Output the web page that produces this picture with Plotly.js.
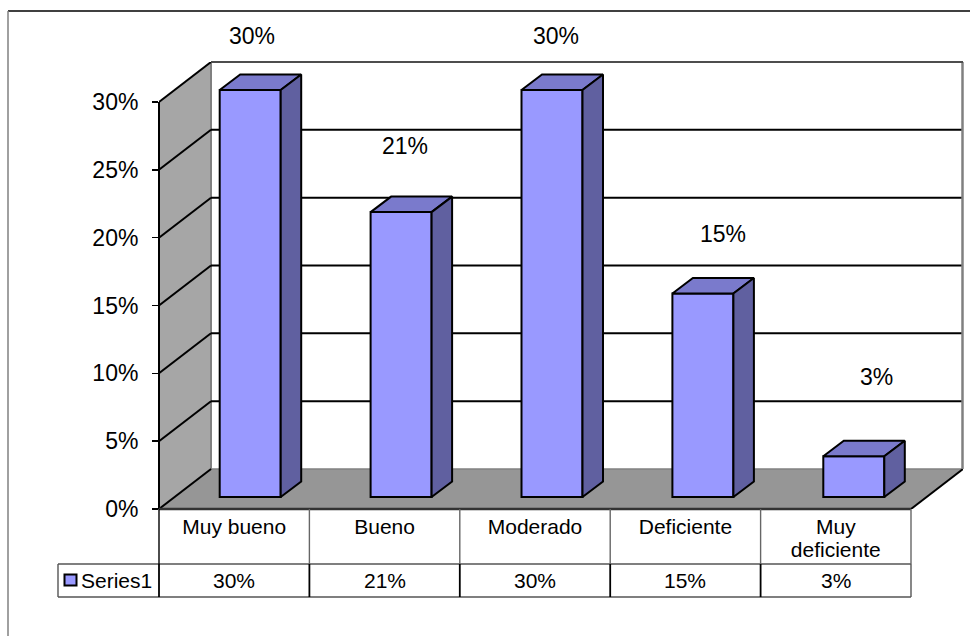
<!DOCTYPE html>
<html>
<head>
<meta charset="utf-8">
<script src="https://cdn.plot.ly/plotly-3.0.1.min.js"></script>
<style>html,body{margin:0;padding:0;background:#fff}</style>
</head>
<body>
<div id="chart" style="width:970px;height:636px"></div>
<script>
// Data
const categories = ["Muy bueno", "Bueno", "Moderado", "Deficiente", "Muy<br>deficiente"];
const seriesName = "Series1";
const values = [30, 21, 30, 15, 3];
const yTicks = [0, 5, 10, 15, 20, 25, 30];
const gridTicks = [5, 10, 15, 20, 25, 30];
const labelX = [0.118, 1.136, 2.14, 3.25, 4.27];
const labelY = [34.86, 26.76, 34.86, 20.27, 9.73];

// Scale of the 3-D box, in pixels of the frame
const W = 970, H = 636, L = 159, R = 963, T = 62, B = 509;
const catPx = 150.4, unitPx = 407 / 30;
const wallDx = 52 / catPx, wallDy = 40 / unitPx;
const barDx = 16 / catPx, barStep = 150.9 / catPx, barBase = 12 / unitPx, barW = 61 / catPx;
const faceDx = 20.5 / catPx, faceDy = 15.5 / unitPx;
const xMin = -0.5, xMax = xMin + (R - L) / catPx, yMax = (B - T) / unitPx;
const px = x => (x - L) / (R - L);
const py = y => (B - y) / (B - T);

const path = pts => pts.map((p, i) => (i ? "L" : "M") + p[0] + "," + p[1]).join(" ") + " Z";
const xRight = xMin + 5;
const shapes = [];
const dataLine = (x0, y0, x1, y1, color, width) => shapes.push({type:"line", xref:"x", yref:"y", layer:"below",
  x0:x0, x1:x1, y0:y0, y1:y1, line:{color:color, width:width}});
// walls and floor
shapes.push({type:"path", xref:"x", yref:"y", layer:"below", fillcolor:"#a6a6a6", line:{width:0},
  path:path([[xMin,0],[xMin+wallDx,wallDy],[xMin+wallDx,30+wallDy],[xMin,30]])});
shapes.push({type:"path", xref:"x", yref:"y", layer:"below", fillcolor:"#969696", line:{width:0},
  path:path([[xMin,0],[xMin+wallDx,wallDy],[xRight+wallDx,wallDy],[xRight,0]])});
// wall edges inside the plot
dataLine(xMin+wallDx, wallDy, xMin+wallDx, 30+wallDy, "#808080", 2);
dataLine(xMin+wallDx, wallDy, xRight+wallDx, wallDy, "#808080", 1.5);
// grid lines on back and left wall
gridTicks.forEach(v => {
  if (v < 30) dataLine(xMin+wallDx, v+wallDy, xRight+wallDx, v+wallDy, "#000000", 2);
  dataLine(xMin, v, xMin+wallDx, v+wallDy, "#000000", 2);
});
// floor edges
dataLine(xMin, 0, xMin+wallDx, wallDy, "#000000", 2);
dataLine(xRight, 0, xRight+wallDx, wallDy, "#000000", 2);

// lines at or beyond the frame of the plot (paper reference so they are not clipped)
const edge = (x0, y0, x1, y1, color, width) => shapes.push({type:"line", xref:"paper", yref:"paper", layer:"above",
  x0:px(x0), x1:px(x1), y0:py(y0), y1:py(y1), line:{color:color, width:width}});
edge(R - 0.5, T, R - 0.5, B - 40, "#808080", 2.5);
edge(L + 52, T, R, T, "#4d4d4d", 2);
// axis line and floor front
edge(L, B, L, B - 30 * unitPx, "#000000", 2);
edge(L, B, L + 5 * catPx, B, "#333333", 2.5);
// data table
const tableMid = 564, tableEnd = 597, keyLeft = 58;
[tableMid, tableEnd].forEach(y => edge(keyLeft, y, L + 5 * catPx, y, "#555555", 1.4));
edge(keyLeft, tableMid, keyLeft, tableEnd, "#555555", 1.4);
for (let i = 0; i <= 5; i++) {
  edge(L + i * catPx, B, L + i * catPx, tableMid, i === 0 ? "#000000" : "#666666", 1.4);
  edge(L + i * catPx, tableMid, L + i * catPx, tableEnd, i === 5 ? "#555555" : "#000000", i === 5 ? 1.4 : 1.8);
}
// legend key in the table
shapes.push({type:"rect", xref:"paper", yref:"paper", x0:px(64.5), x1:px(76.5), y0:py(574.5), y1:py(585.5),
  fillcolor:"#9999ff", line:{color:"#000000", width:2}});
// outer frame
edge(8, 11, 970, 11, "#000000", 1.5);
edge(8, 11, 8, 636, "#808080", 1.5);

const xCats = categories.map((c, i) => i);
const barX = xCats.map(i => barDx + i * barStep);
const topX = [], topY = [], sideX = [], sideY = [];
values.forEach((v, i) => {
  const a = barX[i] - barW / 2, b = barX[i] + barW / 2, lo = barBase, hi = barBase + v;
  topX.push(a, b, b + faceDx, a + faceDx, a, null);
  topY.push(hi, hi, hi + faceDy, hi + faceDy, hi, null);
  sideX.push(b, b + faceDx, b + faceDx, b, b, null);
  sideY.push(lo, lo + faceDy, hi + faceDy, hi, lo, null);
});

const traces = [
  {type:"bar", name:seriesName, x:barX, y:values, base:barBase, width:barW, showlegend:false, hoverinfo:"skip",
   marker:{color:"#9999ff", line:{color:"#000000", width:2}}},
  {type:"scatter", mode:"lines", x:topX, y:topY, fill:"toself", fillcolor:"#7a7acc", line:{color:"#000000", width:2}, showlegend:false, hoverinfo:"skip"},
  {type:"scatter", mode:"lines", x:sideX, y:sideY, fill:"toself", fillcolor:"#6060a0", line:{color:"#000000", width:2}, showlegend:false, hoverinfo:"skip"}
];

const font = {family:"'Liberation Sans', Arial, sans-serif", size:21, color:"#000000"};
const annotations = [];
values.forEach((v, i) => {
  annotations.push({xref:"x", yref:"paper", x:labelX[i], y:labelY[i] * unitPx / (B - T), text:v + "%", showarrow:false, font:{...font, size:23}, xanchor:"center", yanchor:"middle"});
  annotations.push({xref:"x", yref:"paper", x:i, y:py(580), text:v + "%", showarrow:false, font:font, xanchor:"center", yanchor:"middle"});
});
annotations.push({xref:"paper", yref:"paper", x:px(80.5), y:py(580), text:seriesName, showarrow:false, font:font, xanchor:"left", yanchor:"middle", xshift:-2});

// The tick font sets the line spacing of two-line labels; each line keeps the 21px text size
const tickText = categories.map(c => c.split("<br>").map(s => "<span style='font-size:21px'>" + s + "</span>").join("<br>"));

const layout = {
  width:W, height:H, autosize:false, showlegend:false, barmode:"overlay",
  paper_bgcolor:"#ffffff", plot_bgcolor:"#ffffff",
  margin:{l:L, r:W - R, t:T, b:H - B, pad:0},
  font:font,
  xaxis:{type:"linear", range:[xMin, xMax], tickmode:"array", tickvals:xCats, ticktext:tickText,
    showgrid:false, zeroline:false, showline:false, ticks:"", tickfont:{...font, size:17.7}, ticklabelstandoff:6, tickangle:0},
  yaxis:{type:"linear", range:[0, yMax], tickmode:"array", tickvals:yTicks, ticktext:yTicks.map(v => v + "%"),
    showgrid:false, zeroline:false, showline:false, ticks:"outside", ticklen:6, tickwidth:1.5, tickcolor:"#000000",
    tickfont:{...font, size:23}, ticklabelstandoff:9},
  shapes:shapes, annotations:annotations
};
Plotly.newPlot("chart", traces, layout, {displayModeBar:false, staticPlot:true});
</script>
</body>
</html>
